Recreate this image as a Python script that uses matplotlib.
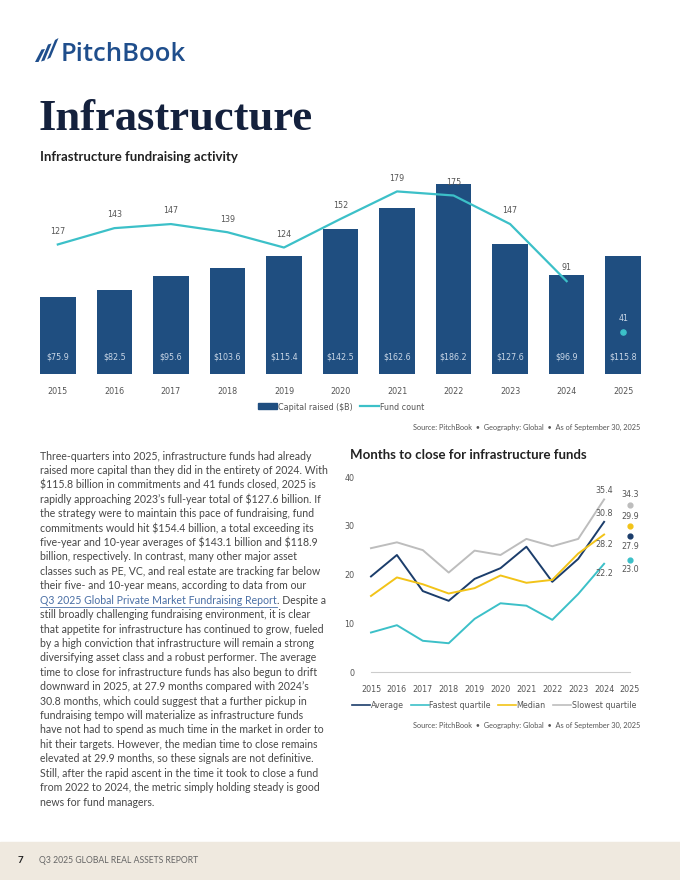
import numpy as np
import matplotlib
matplotlib.use("Agg")
import matplotlib.pyplot as plt
from matplotlib.patches import Polygon, Rectangle
from matplotlib.lines import Line2D
from matplotlib import font_manager

# -- data
years = [2015, 2016, 2017, 2018, 2019, 2020, 2021, 2022, 2023, 2024, 2025]
capital = [75.9, 82.5, 95.6, 103.6, 115.4, 142.5, 162.6, 186.2, 127.6, 96.9, 115.8]
fund_count = [127, 143, 147, 139, 124, 152, 179, 175, 147, 91, 41]

close_years = [2015, 2016, 2017, 2018, 2019, 2020, 2021, 2022, 2023, 2024]
average = [19.6, 24.0, 16.6, 14.6, 19.1, 21.3, 25.7, 18.5, 23.2, 30.8]
fastest = [8.1, 9.6, 6.4, 5.9, 10.9, 14.1, 13.6, 10.7, 16.0, 22.2]
median = [15.6, 19.4, 18.0, 16.1, 17.2, 19.8, 18.3, 18.9, 24.3, 28.2]
slowest = [25.4, 26.6, 25.0, 20.4, 24.9, 24.0, 27.3, 25.8, 27.3, 35.4]
last_year = 2025
last_vals = {"Average": 27.9, "Fastest quartile": 23.0, "Median": 29.9, "Slowest quartile": 34.3}

W, H = 680, 880
NAVY = "#1f4e80"
TEAL = "#3cc0c8"
YELLOW = "#f2c318"
GREY = "#bdbdbd"
DNAVY = "#1b3d6b"
TXT = "#555555"
LIGHT = "#c9d6e6"

# narrow font for chart labels, if one is around
names = {f.name for f in font_manager.fontManager.ttflist}
narrow = [n for n in ["Liberation Sans Narrow", "DejaVu Sans Condensed"] if n in names]
if narrow:
    COND = dict(family=[narrow[0], "DejaVu Sans"])
    CSIZE = 7.3
else:
    COND = dict(family=["DejaVu Sans"], stretch="condensed")
    CSIZE = 6.4


def fx(px):
    return px / W


def fy(py):
    return 1 - py / H


fig = plt.figure(figsize=(6.8, 8.8), dpi=100)

# logo - three slanted strokes
strokes = [
    [(35, 62), (38.5, 62), (45, 49), (41.5, 49.5)],
    [(41, 61.5), (44.5, 60.5), (51.5, 43.5), (48, 44.5)],
    [(47, 59.5), (50.5, 57.5), (58.5, 38), (55, 40)],
]
for pts in strokes:
    fig.patches.append(Polygon([(fx(a), fy(b)) for a, b in pts], closed=True,
                               transform=fig.transFigure, color="#1f4e8c", lw=0))
fig.text(fx(61), fy(61), "PitchBook", fontsize=18.5, family="Open Sans", weight="semibold",
         color="#1f4e8c", va="baseline")

fig.text(fx(39), fy(130), "Infrastructure", fontsize=32, family="Liberation Serif",
         weight="bold", color="#14213d", va="baseline")
fig.text(fx(40), fy(157), "Infrastructure fundraising activity", fontsize=9.5,
         family="Lato", weight="bold", color="#222222", va="center")

# -- bar chart
ax = fig.add_axes([fx(40), fy(374), fx(641) - fx(40), (374 - 170) / H])
x = np.arange(len(years))
ax.bar(x, capital, width=0.63, color=NAVY, zorder=2)
ax.plot(x[:-1], fund_count[:-1], color=TEAL, lw=1.6, zorder=3)
ax.scatter([x[-1]], [fund_count[-1]], s=14, color=TEAL, zorder=3)
for i, v in enumerate(capital):
    ax.annotate(f"${v}", (x[i], 0), xytext=(0, 12), textcoords="offset points",
                ha="center", va="center", fontsize=CSIZE, color=LIGHT, **COND)
for i, v in enumerate(fund_count):
    # the last one sits on the bar
    c = LIGHT if i == len(fund_count) - 1 else TXT
    ax.annotate(f"{v}", (x[i], v), xytext=(0, 9.5), textcoords="offset points",
                ha="center", va="center", fontsize=CSIZE, color=c, **COND)
ax.set_xlim(-0.315, 10.315)
ax.set_ylim(0, 200)
ax.set_xticks(x)
ax.set_xticklabels(years, fontsize=CSIZE, color=TXT, **COND)
ax.tick_params(axis="x", length=0, pad=9)
ax.set_yticks([])
for s in ax.spines.values():
    s.set_visible(False)

h1 = [Rectangle((0, 0), 1, 1, color=NAVY), Line2D([], [], color=TEAL, lw=1.6)]
fig.legend(h1, ["Capital raised ($B)", "Fund count"], loc="center",
           bbox_to_anchor=(fx(341), fy(407)), ncol=2, frameon=False,
           prop=dict(size=CSIZE, **COND), labelcolor=TXT, handlelength=2.1,
           handletextpad=0.1, columnspacing=0.9)
fig.text(fx(640), fy(427), "Source: PitchBook  \u2022  Geography: Global  \u2022  As of September 30, 2025",
         ha="right", va="center", fontsize=5.3, family="Lato", color=TXT)

# -- body text
lines = [
    "Three-quarters into 2025, infrastructure funds had already",
    "raised more capital than they did in the entirety of 2024. With",
    "$115.8 billion in commitments and 41 funds closed, 2025 is",
    "rapidly approaching 2023\u2019s full-year total of $127.6 billion. If",
    "the strategy were to maintain this pace of fundraising, fund",
    "commitments would hit $154.4 billion, a total exceeding its",
    "five-year and 10-year averages of $143.1 billion and $118.9",
    "billion, respectively. In contrast, many other major asset",
    "classes such as PE, VC, and real estate are tracking far below",
    "their five- and 10-year means, according to data from our",
    None,
    "still broadly challenging fundraising environment, it is clear",
    "that appetite for infrastructure has continued to grow, fueled",
    "by a high conviction that infrastructure will remain a strong",
    "diversifying asset class and a robust performer. The average",
    "time to close for infrastructure funds has also begun to drift",
    "downward in 2025, at 27.9 months compared with 2024\u2019s",
    "30.8 months, which could suggest that a further pickup in",
    "fundraising tempo will materialize as infrastructure funds",
    "have not had to spend as much time in the market in order to",
    "hit their targets. However, the median time to close remains",
    "elevated at 29.9 months, so these signals are not definitive.",
    "Still, after the rapid ascent in the time it took to close a fund",
    "from 2022 to 2024, the metric simply holding steady is good",
    "news for fund managers.",
]
body = dict(fontsize=7.6, family="Lato", color="#474747", va="center", parse_math=False)
for i, ln in enumerate(lines):
    y = fy(456 + i * 14.42)
    if ln is None:
        link = fig.text(fx(40), y, "Q3 2025 Global Private Market Fundraising Report",
                        **{**body, "color": "#4a6fa5"})
        fig.canvas.draw()
        bb = link.get_window_extent()
        fig.text(bb.x1 / W, y, ". Despite a", **body)
        fig.add_artist(Line2D([bb.x0 / W, bb.x1 / W], [bb.y0 / H - 0.001] * 2,
                              color="#4a6fa5", lw=0.6, transform=fig.transFigure))
    else:
        fig.text(fx(40), y, ln, **body)

# -- months to close chart
fig.text(fx(350), fy(455), "Months to close for infrastructure funds", fontsize=9.5,
         family="Lato", weight="bold", color="#222222", va="center")
ax2 = fig.add_axes([fx(371), fy(672), fx(630) - fx(371), (672 - 477) / H])
series = [("Average", average, DNAVY), ("Fastest quartile", fastest, TEAL),
          ("Median", median, YELLOW), ("Slowest quartile", slowest, GREY)]
for name, vals, c in series:
    ax2.plot(close_years, vals, color=c, lw=1.4, label=name, clip_on=False)
    ax2.scatter([last_year], [last_vals[name]], s=12, color=c, clip_on=False, zorder=3)

lab = dict(textcoords="offset points", ha="center", fontsize=CSIZE, color=TXT, **COND)
ax2.annotate(f"{slowest[-1]}", (2024, slowest[-1]), xytext=(0, 3), va="bottom", **lab)
ax2.annotate(f"{average[-1]}", (2024, average[-1]), xytext=(0, 3), va="bottom", **lab)
ax2.annotate(f"{median[-1]}", (2024, median[-1]), xytext=(0, -4), va="top", **lab)
ax2.annotate(f"{fastest[-1]}", (2024, fastest[-1]), xytext=(0, -4), va="top", **lab)
ax2.annotate(f"{last_vals['Slowest quartile']}", (2025, last_vals["Slowest quartile"]),
             xytext=(0, 4), va="bottom", **lab)
ax2.annotate(f"{last_vals['Median']}", (2025, last_vals["Median"]),
             xytext=(0, 4), va="bottom", **lab)
ax2.annotate(f"{last_vals['Average']}", (2025, last_vals["Average"]),
             xytext=(0, -4), va="top", **lab)
ax2.annotate(f"{last_vals['Fastest quartile']}", (2025, last_vals["Fastest quartile"]),
             xytext=(0, -4), va="top", **lab)

ax2.set_xlim(2015, 2025)
ax2.set_ylim(0, 40)
ax2.set_xticks(years)
ax2.set_xticklabels(years, fontsize=CSIZE, color=TXT, **COND)
ax2.set_yticks([0, 10, 20, 30, 40])
ax2.set_yticklabels([0, 10, 20, 30, 40], fontsize=CSIZE, color=TXT, **COND)
ax2.tick_params(length=0)
ax2.tick_params(axis="x", pad=9)
ax2.tick_params(axis="y", pad=12)
for s in ["top", "right", "left"]:
    ax2.spines[s].set_visible(False)
ax2.spines["bottom"].set_color("#cccccc")
ax2.spines["bottom"].set_linewidth(0.8)

h2 = [Line2D([], [], color=c, lw=1.2) for _, _, c in series]
fig.legend(h2, [n for n, _, _ in series], loc="center",
           bbox_to_anchor=(fx(494), fy(706)), ncol=4, frameon=False,
           prop=dict(size=CSIZE, **COND), labelcolor=TXT, handlelength=2.0,
           handletextpad=0.1, columnspacing=0.8)
fig.text(fx(640), fy(725), "Source: PitchBook  \u2022  Geography: Global  \u2022  As of September 30, 2025",
         ha="right", va="center", fontsize=5.3, family="Lato", color=TXT)

# -- footer band
fig.patches.append(Rectangle((0, 0), 1, fy(842), transform=fig.transFigure,
                             color="#efe9df", zorder=0))
fig.text(fx(18), fy(860), "7", fontsize=7, family="Lato", weight="bold",
         color="#222222", va="center")
fig.text(fx(39), fy(860), "Q3 2025 GLOBAL REAL ASSETS REPORT", fontsize=6.2,
         family="Lato", color="#666666", va="center")

fig.savefig("out.png", dpi=100)
